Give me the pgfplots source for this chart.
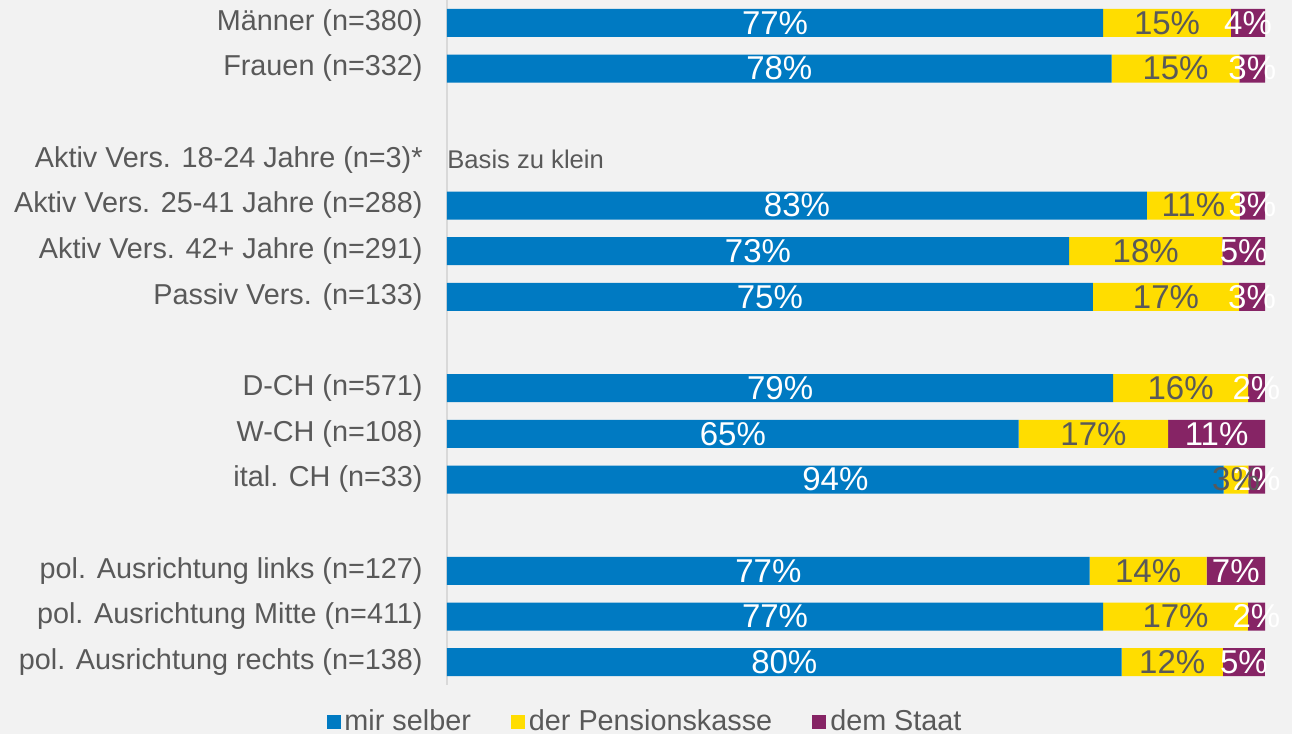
\documentclass[border=0pt]{standalone}
\usepackage{pgfplots}
\pgfplotsset{compat=1.18}
\usepackage{pgfplotstable}
\usepackage{fontspec}
\setmainfont{Liberation Sans}
\definecolor{cblue}{RGB}{0,122,194}
\definecolor{cyellow}{RGB}{255,221,0}
\definecolor{cpurple}{RGB}{134,36,101}
\definecolor{ctext}{RGB}{89,89,89}
\definecolor{cbg}{RGB}{242,242,242}
\definecolor{caxis}{RGB}{217,217,217}
% bar lengths normalised to 100, labels as printed
\pgfplotstableread{
r a b c la lb lc
0 80.21 15.63 4.17 77 15 4
1 81.25 15.63 3.13 78 15 3
4 85.57 11.34 3.09 83 11 3
5 76.04 18.75 5.21 73 18 5
6 78.95 17.89 3.16 75 17 3
8 81.44 16.49 2.06 79 16 2
9 69.89 18.28 11.83 65 17 11
10 94.95 3.03 2.02 94 3 2
12 78.57 14.29 7.14 77 14 7
13 80.21 17.71 2.08 77 17 2
14 82.47 12.37 5.15 80 12 5
}\data
\pgfplotsset{sqlegend/.style={legend image code/.code={\draw[##1,draw=none] (0pt,-3.5pt) rectangle (7pt,3.5pt);}}}
\begin{document}
\begin{tikzpicture}
\fill[cbg] (0,0) rectangle (646pt,367pt);
\begin{axis}[
  at={(223.5pt,24.5pt)}, anchor=south west,
  scale only axis, width=409pt, height=342.5pt,
  xbar stacked, bar width=14pt,
  xmin=0, xmax=100, ymin=-0.5, ymax=14.5, y dir=reverse,
  axis x line=none, axis y line=left,
  axis line style={-, draw=caxis, line width=1pt},
  xtick=\empty,
  ytick={0,1,3,4,5,6,8,9,10,12,13,14},
  yticklabels={{Männer (n=380)},{Frauen (n=332)},{Aktiv Vers. 18-24 Jahre (n=3)*},{Aktiv Vers. 25-41 Jahre (n=288)},{Aktiv Vers. 42+ Jahre (n=291)},{Passiv Vers. (n=133)},{D-CH (n=571)},{W-CH (n=108)},{ital. CH (n=33)},{pol. Ausrichtung links (n=127)},{pol. Ausrichtung Mitte (n=411)},{pol. Ausrichtung rechts (n=138)}},
  major tick length=0pt,
  yticklabel style={font=\fontsize{14.4}{16}\selectfont, text=ctext, inner sep=0pt, xshift=-12pt},
  clip=false,
  point meta=explicit symbolic,
  nodes near coords={\pgfplotspointmeta\%},
  nodes near coords style={anchor=center, inner sep=0pt, font=\fontsize{16.5}{18}\selectfont},
  legend style={at={(0.2433,-0.054)}, anchor=center, draw=none, fill=none, legend columns=3,
    font=\fontsize{14.4}{16}\selectfont, text=ctext,
    /tikz/every even column/.append style={column sep=18pt}},
]
\addplot[fill=cblue, draw=none, sqlegend, nodes near coords style={text=white}] table[y=r, x=a, meta=la] {\data};
\addlegendentry{mir selber}
\addplot[fill=cyellow, draw=none, sqlegend, nodes near coords style={text=ctext}] table[y=r, x=b, meta=lb] {\data};
\addlegendentry{der Pensionskasse}
\addplot[fill=cpurple, draw=none, sqlegend, nodes near coords style={text=white}] table[y=r, x=c, meta=lc] {\data};
\addlegendentry{dem Staat}
\node[anchor=west, inner sep=0pt, text=ctext, font=\fontsize{12.8}{14}\selectfont] at (axis cs:0,3) {Basis zu klein};
\end{axis}
\pgfresetboundingbox
\path (0,0) rectangle (646pt,367pt);
\end{tikzpicture}
\end{document}
